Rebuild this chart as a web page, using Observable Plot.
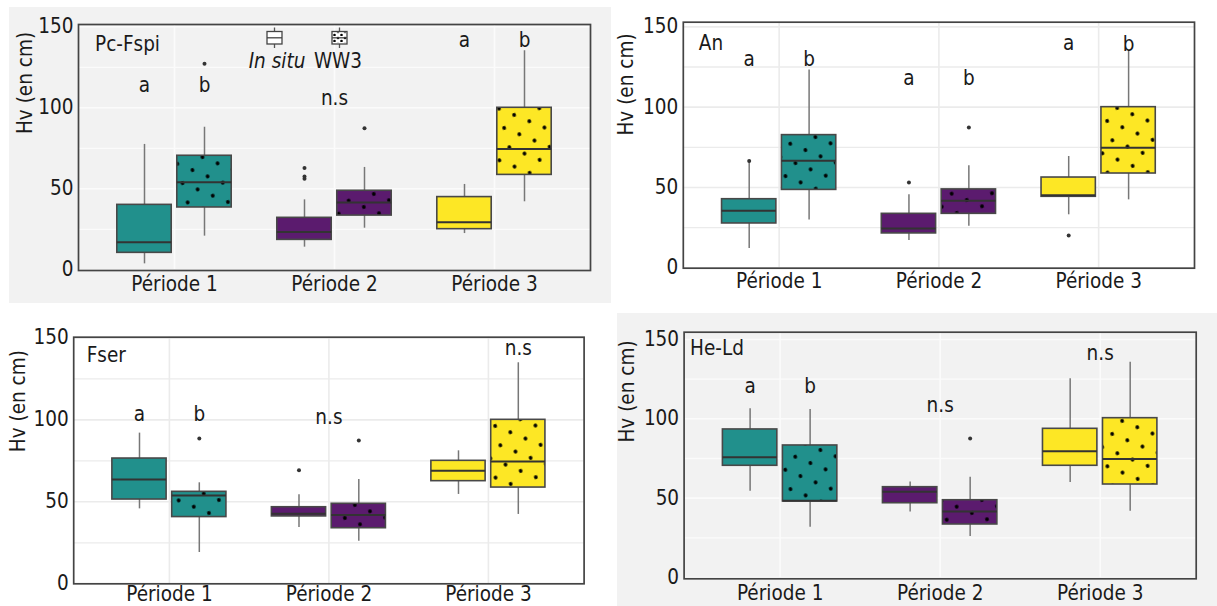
<!DOCTYPE html>
<html>
<head>
<meta charset="utf-8">
<script src="https://cdn.jsdelivr.net/npm/d3@7"></script>
<script src="https://cdn.jsdelivr.net/npm/@observablehq/plot@0.6"></script>
<style>
  html, body { margin: 0; padding: 0; background: #ffffff; }
  body { width: 1217px; height: 606px; position: relative; overflow: hidden; font-family: "DejaVu Sans", sans-serif; }
  #legend { position: absolute; left: 0; top: 0; }
</style>
</head>
<body>
<svg width="0" height="0" style="position:absolute">
  <defs>
    <pattern id="dots" patternUnits="userSpaceOnUse" width="26" height="20" patternTransform="rotate(-15)">
      <circle cx="5" cy="5" r="1.9" fill="#000"></circle>
      <circle cx="18" cy="15" r="1.9" fill="#000"></circle>
    </pattern>
    <pattern id="dotsSmall" patternUnits="userSpaceOnUse" width="7" height="6">
      <circle cx="2" cy="2" r="1.3" fill="#000"></circle>
      <circle cx="5.5" cy="5" r="1.3" fill="#000"></circle>
    </pattern>
  </defs>
</svg>
<div id="root"></div>
<script>
// ---------- data ----------
const periods = ["Période 1", "Période 2", "Période 3"];
const groups = ["In situ", "WW3"];
const periodColors = ["#21908c", "#5b1b6e", "#fde725"];
const yTicks = [0, 50, 100, 150];
const yMinorTicks = [25, 75, 125];
const yLabel = "Hv (en cm)";

// box summaries: [period, group, lower whisker, Q1, median, Q3, upper whisker]
const pcFspiBoxes = [
  ["Période 1", "In situ", 3.7, 10.5, 17.1, 40.1, 77.4],
  ["Période 1", "WW3", 20.8, 38.5, 54.1, 70.4, 88],
  ["Période 2", "In situ", 14, 18.5, 23.3, 32.1, 43.2],
  ["Période 2", "WW3", 25.7, 33.5, 41.6, 48.8, 63.2],
  ["Période 3", "In situ", 22.4, 25.1, 29.4, 44.9, 52.7],
  ["Période 3", "WW3", 42, 58.6, 74.5, 100, 135.2]
];
const pcFspiOutliers = [
  ["Période 1", "WW3", 127.2],
  ["Période 2", "In situ", 62.8],
  ["Période 2", "In situ", 57.6],
  ["Période 2", "In situ", 56.2],
  ["Période 2", "WW3", 87.4]
];
const pcFspiLetters = [
  ["a", "Période 1", "In situ", 113.7],
  ["b", "Période 1", "WW3", 113.7],
  ["n.s", "Période 2", null, 105.5],
  ["a", "Période 3", "In situ", 141.5],
  ["b", "Période 3", "WW3", 141.5]
];

const anBoxes = [
  ["Période 1", "In situ", 12, 27.6, 35.5, 42.7, 65.5],
  ["Période 1", "WW3", 29.7, 48.5, 66.6, 82.6, 123.2],
  ["Période 2", "In situ", 17, 21.4, 24.5, 33.6, 45.4],
  ["Période 2", "WW3", 25.9, 33.6, 41.7, 48.8, 63.5],
  ["Période 3", "In situ", 33, 44.2, 45.2, 56.2, 69.3],
  ["Période 3", "WW3", 42.3, 58.7, 74.7, 100, 135.3]
];
const anOutliers = [
  ["Période 1", "In situ", 66.5],
  ["Période 2", "In situ", 53.1],
  ["Période 2", "WW3", 87.3],
  ["Période 3", "In situ", 20.1]
];
const anLetters = [
  ["a", "Période 1", "In situ", 130],
  ["b", "Période 1", "WW3", 130],
  ["a", "Période 2", "In situ", 118.2],
  ["b", "Période 2", "WW3", 118.2],
  ["a", "Période 3", "In situ", 139.4],
  ["b", "Période 3", "WW3", 139]
];

const fserBoxes = [
  ["Période 1", "In situ", 45.7, 51.4, 63.6, 76.4, 91.9],
  ["Période 1", "WW3", 19.1, 40.7, 53.9, 56.1, 61.6],
  ["Période 2", "In situ", 34.3, 41.1, 42.7, 46.7, 54.3],
  ["Période 2", "WW3", 26, 33.9, 41.9, 48.8, 63.6],
  ["Période 3", "In situ", 54.5, 62.6, 68.9, 75, 81.1],
  ["Période 3", "WW3", 42.3, 58.7, 74.6, 100, 134.8]
];
const fserOutliers = [
  ["Période 1", "WW3", 88.6],
  ["Période 2", "In situ", 69.3],
  ["Période 2", "WW3", 87.4]
];
const fserLetters = [
  ["a", "Période 1", "In situ", 103.2],
  ["b", "Période 1", "WW3", 103.2],
  ["n.s", "Période 2", null, 101.2],
  ["n.s", "Période 3", "WW3", 143.3]
];

const heLdBoxes = [
  ["Période 1", "In situ", 54.4, 70.4, 75.8, 93.3, 106.3],
  ["Période 1", "WW3", 31.7, 47.9, 48.3, 83.2, 105.9],
  ["Période 2", "In situ", 41.2, 46.8, 54, 56.9, 60.1],
  ["Période 2", "WW3", 25.8, 33.4, 41.6, 48.7, 63.2],
  ["Période 3", "In situ", 59.9, 70.4, 79.6, 93.7, 125.2],
  ["Période 3", "WW3", 41.8, 58.6, 74.6, 100.4, 135.7]
];
const heLdOutliers = [
  ["Période 2", "WW3", 87.6]
];
const heLdLetters = [
  ["a", "Période 1", "In situ", 120.2],
  ["b", "Période 1", "WW3", 120.2],
  ["n.s", "Période 2", null, 108.4],
  ["n.s", "Période 3", null, 141]
];

const panelTitles = ["Pc-Fspi", "An", "Fser", "He-Ld"];
const titleHeights = [139.4, 139.4, 139.4, 144.1];

// ---------- layout ----------
const DODGE = 0.1875, BOXW = 0.34;
const FONT = "'DejaVu Sans', sans-serif";
const FS = 20.5;
const layouts = [
  {boxes: pcFspiBoxes, outs: pcFspiOutliers, letters: pcFspiLetters, left: 9, top: 7, w: 602, h: 296,
   mL: 69, mR: 21, mT: 17, mB: 33, dom: [-0.4, 151.4], bg: "#f2f2f2", grid: "#fbfbfb",
   labDx: -52.7, labDy: -13.5, titleDx: 16.5, xPad: 5.6},
  {boxes: anBoxes, outs: anOutliers, letters: anLetters, left: 612, top: 0, w: 605, h: 305,
   mL: 70.8, mR: 23, mT: 21.7, mB: 37.3, dom: [-0.25, 152.9], bg: "#ffffff", grid: "#ebebeb",
   labDx: -57.3, labDy: -9.7, titleDx: 15.5, xPad: 4.8},
  {boxes: fserBoxes, outs: fserOutliers, letters: fserLetters, left: 0, top: 305, w: 610, h: 301,
   mL: 73.2, mR: 26.4, mT: 31.7, mB: 22.7, dom: [0, 150.4], bg: "#ffffff", grid: "#ebebeb",
   labDx: -55.7, labDy: -8.3, titleDx: 13, xPad: 3},
  {boxes: heLdBoxes, outs: heLdOutliers, letters: heLdLetters, left: 617, top: 313, w: 600, h: 293,
   mL: 66.6, mR: 21.3, mT: 18.7, mB: 27.7, dom: [-0.84, 154.6], bg: "#f2f2f2", grid: "#fbfbfb",
   labDx: -56.2, labDy: -13, titleDx: 6, xPad: 6.5}
];

const offset = g => g === "In situ" ? -DODGE : g === "WW3" ? DODGE : 0;
const xOf = (p, g) => periods.indexOf(p) + 1 + offset(g);

// narrow the glyphs (the source used a condensed face) without touching positions
function condense(node, k) {
  node.querySelectorAll("text").forEach(t => {
    const w = t.getComputedTextLength();
    if (w > 0) {
      t.setAttribute("textLength", (w * k).toFixed(2));
      t.setAttribute("lengthAdjust", "spacingAndGlyphs");
    }
  });
}

const root = document.getElementById("root");
const svgs = [];
layouts.forEach((L, i) => {
  const rows = L.boxes.map(([p, g, lo, q1, med, q3, hi]) => ({p, g, lo, q1, med, q3, hi, x: xOf(p, g)}));
  const outs = L.outs.map(([p, g, v]) => ({x: xOf(p, g), v}));
  const letters = L.letters.map(([t, p, g, v]) => ({t, x: xOf(p, g), v}));
  const x1 = d => d.x - BOXW / 2, x2 = d => d.x + BOXW / 2;
  const svg = Plot.plot({
    width: L.w, height: L.h,
    marginLeft: L.mL, marginRight: L.mR, marginTop: L.mT, marginBottom: L.mB,
    x: {domain: [0.4, 3.6]},
    y: {domain: L.dom},
    color: {type: "ordinal", domain: periods, range: periodColors},
    style: {background: L.bg, color: "#1a1a1a", fontFamily: FONT, overflow: "visible"},
    marks: [
      Plot.gridY(yMinorTicks, {stroke: L.grid, strokeOpacity: 1, strokeWidth: 1.3}),
      Plot.gridY(yTicks, {stroke: L.grid, strokeOpacity: 1, strokeWidth: 1.6}),
      Plot.gridX([1, 2, 3], {stroke: L.grid, strokeOpacity: 1, strokeWidth: 1.6}),
      Plot.ruleX(rows, {x: "x", y1: "lo", y2: "q1", stroke: "#777777", strokeWidth: 1.5}),
      Plot.ruleX(rows, {x: "x", y1: "q3", y2: "hi", stroke: "#777777", strokeWidth: 1.5}),
      Plot.rect(rows, {x1, x2, y1: "q1", y2: "q3", fill: "p"}),
      Plot.rect(rows.filter(d => d.g === "WW3"), {x1, x2, y1: "q1", y2: "q3", fill: "url(#dots)"}),
      Plot.rect(rows, {x1, x2, y1: "q1", y2: "q3", fill: "none", stroke: "#484848", strokeWidth: 1.6}),
      Plot.ruleY(rows, {y: "med", x1, x2, stroke: "#333333", strokeWidth: 2}),
      Plot.dot(outs, {x: "x", y: "v", r: 2, fill: "#333333", stroke: "none"}),
      Plot.text(letters, {x: "x", y: "v", text: "t", fontSize: FS, fill: "#1a1a1a"}),
      Plot.text([panelTitles[i]], {frameAnchor: "left", y: () => titleHeights[i], textAnchor: "start",
        dx: L.titleDx, fontSize: FS, fill: "#1a1a1a"}),
      Plot.text([yLabel], {frameAnchor: "left", rotate: -90, dx: L.labDx, dy: L.labDy, fontSize: FS, fill: "#1a1a1a"}),
      Plot.axisY(yTicks, {tickSize: 0, tickPadding: 5, fontSize: FS, label: null}),
      Plot.axisX([1, 2, 3], {tickFormat: v => periods[v - 1], tickSize: 0, tickPadding: L.xPad, fontSize: FS, label: null}),
      Plot.frame({stroke: "#444444", strokeWidth: 1.7})
    ]
  });
  svg.style.position = "absolute";
  svg.style.left = L.left + "px";
  svg.style.top = L.top + "px";
  root.appendChild(svg);
  svgs.push(svg);
});

// ---------- legend (panel 1) ----------
const legend = d3.select("body").append("svg").attr("id", "legend")
  .attr("width", 1217).attr("height", 80).style("font-family", FONT);
const glyphX = [267, 332];
const labelX = [277, 338];
groups.forEach((g, k) => {
  const gx = glyphX[k], gw = 15, cx = gx + gw / 2;
  const gg = legend.append("g");
  gg.append("line").attr("x1", cx).attr("x2", cx).attr("y1", 27.5).attr("y2", 48).attr("stroke", "#555").attr("stroke-width", 1.3);
  gg.append("rect").attr("x", gx).attr("y", 31.5).attr("width", gw).attr("height", 12.5)
    .attr("fill", "#ffffff").attr("stroke", "#444").attr("stroke-width", 1.3);
  if (g === "WW3") gg.append("rect").attr("x", gx + 1).attr("y", 32.5).attr("width", gw - 2).attr("height", 10.5).attr("fill", "url(#dotsSmall)");
  gg.append("line").attr("x1", gx).attr("x2", gx + gw).attr("y1", 37.8).attr("y2", 37.8).attr("stroke", "#444").attr("stroke-width", 1.3);
  gg.append("text").attr("x", labelX[k]).attr("y", 68).attr("text-anchor", "middle")
    .attr("font-size", FS).attr("fill", "#1a1a1a").attr("font-style", k === 0 ? "italic" : "normal").text(g);
});

svgs.forEach(s => condense(s, 0.9));
condense(legend.node(), 0.9);
</script>
</body>
</html>
